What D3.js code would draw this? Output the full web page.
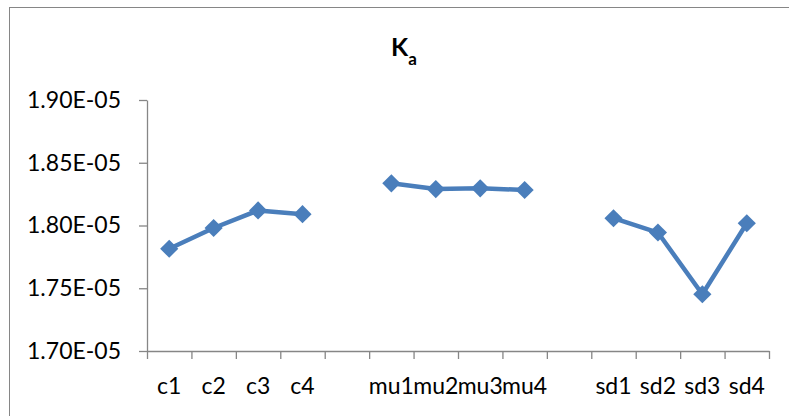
<!DOCTYPE html>
<html>
<head>
<meta charset="utf-8">
<script src="https://cdn.jsdelivr.net/npm/d3@7"></script>
<style>
  body { margin: 0; background: #fff; }
  svg { display: block; font-family: Lato, "Open Sans", sans-serif; }
</style>
</head>
<body>
<div id="chart"></div>
<script>
// categories, blanks separate the three groups
var categories = ["c1", "c2", "c3", "c4", "", "mu1", "mu2", "mu3", "mu4", "", "sd1", "sd2", "sd3", "sd4"];
// Ka values (null = gap)
var kaValues = [1.7815e-5, 1.798e-5, 1.812e-5, 1.809e-5, null,
                1.8336e-5, 1.829e-5, 1.8296e-5, 1.8283e-5, null,
                1.8058e-5, 1.7944e-5, 1.7452e-5, 1.8018e-5];
var yTicks = [1.70e-5, 1.75e-5, 1.80e-5, 1.85e-5, 1.90e-5];

var width = 789, height = 416;
var margin = { left: 147, right: 20, top: 100, bottom: 65 };
var lineColor = "#4a7ebb", axisColor = "#868686";

var svg = d3.select("#chart").append("svg")
  .attr("width", width)
  .attr("height", height);

// chart area border (runs off the right and bottom edge)
svg.append("rect")
  .attr("x", 9.5).attr("y", 7.5)
  .attr("width", 820).attr("height", 440)
  .attr("fill", "none")
  .attr("stroke", axisColor)
  .attr("stroke-width", 1);

var x = d3.scaleBand()
  .domain(d3.range(categories.length))
  .range([margin.left, width - margin.right]);

var y = d3.scaleLinear()
  .domain([1.70e-5, 1.90e-5])
  .range([height - margin.bottom, margin.top]);

// "1.90E-05" style labels
function sciFmt(v) {
  var parts = d3.format(".2e")(v).split("e");
  var exp = +parts[1];
  var sign = exp < 0 ? "-" : "+";
  var e = Math.abs(exp);
  return parts[0] + "E" + sign + (e < 10 ? "0" + e : e);
}

// y axis
var yAxis = svg.append("g")
  .attr("transform", "translate(" + margin.left + ",0)")
  .call(d3.axisLeft(y).tickValues(yTicks).tickFormat(sciFmt).tickSize(8).tickSizeOuter(0).tickPadding(18));

// x axis: ticks on the category boundaries
var xEdge = d3.scaleLinear().domain([0, categories.length]).range(x.range());
var xAxis = svg.append("g")
  .attr("transform", "translate(0," + (height - margin.bottom) + ")")
  .call(d3.axisBottom(xEdge).tickValues(d3.range(categories.length + 1)).tickFormat("").tickSize(8).tickSizeOuter(0));

// x labels at the centers
var xLabels = svg.append("g")
  .attr("transform", "translate(0," + (height - margin.bottom) + ")")
  .call(d3.axisBottom(x).tickFormat(function(i) { return categories[i]; }).tickSize(0).tickPadding(27));
xLabels.select(".domain").remove();

[yAxis, xAxis].forEach(function(g) {
  g.select(".domain").attr("stroke", axisColor).attr("stroke-width", 1.3);
  g.selectAll(".tick line").attr("stroke", axisColor).attr("stroke-width", 1.3);
});
svg.selectAll(".tick text")
  .attr("fill", "#000")
  .attr("font-size", 23)
  .attr("font-family", "Lato, sans-serif");
xLabels.selectAll(".tick text").attr("dy", "0.71em");

// the line, broken at the blanks
var line = d3.line()
  .defined(function(d) { return d !== null; })
  .x(function(d, i) { return x(i) + x.bandwidth() / 2; })
  .y(function(d) { return y(d); });

svg.append("path")
  .datum(kaValues)
  .attr("fill", "none")
  .attr("stroke", lineColor)
  .attr("stroke-width", 4.5)
  .attr("stroke-linejoin", "round")
  .attr("d", line);

var pts = kaValues.map(function(v, i) { return { v: v, i: i }; })
  .filter(function(d) { return d.v !== null; });

svg.selectAll("path.marker")
  .data(pts)
  .enter()
  .append("path")
  .attr("class", "marker")
  .attr("d", d3.symbol(d3.symbolSquare, 165))
  .attr("fill", lineColor)
  .attr("transform", function(d) {
    return "translate(" + (x(d.i) + x.bandwidth() / 2) + "," + y(d.v) + ") rotate(45)";
  });

// title K with subscript a
var title = svg.append("text")
  .attr("x", 404)
  .attr("y", 56)
  .attr("text-anchor", "middle")
  .attr("font-weight", "bold")
  .attr("font-size", 25)
  .attr("fill", "#000");
title.append("tspan").text("K");
title.append("tspan").attr("font-size", 17).attr("dy", 9).text("a");
</script>
</body>
</html>
